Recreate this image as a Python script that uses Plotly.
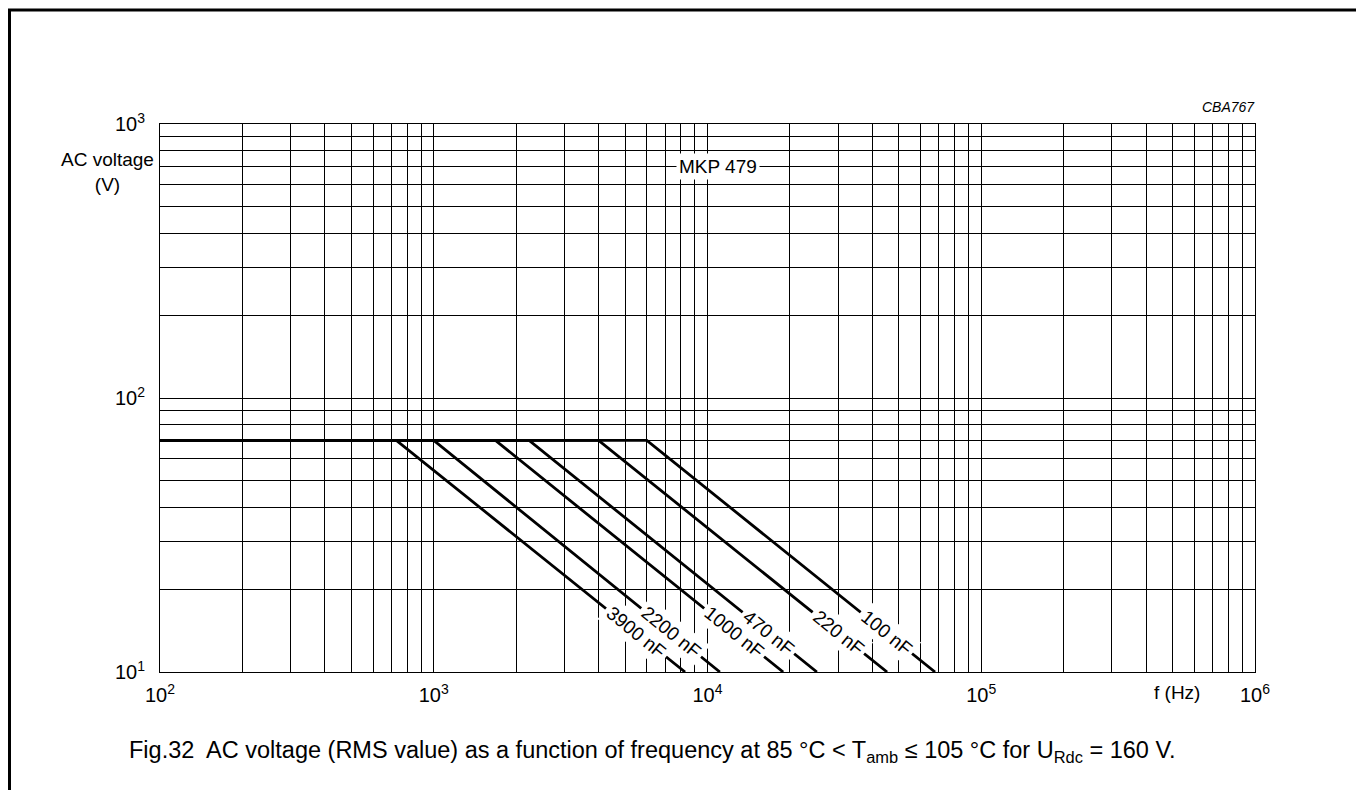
import math
import plotly.graph_objects as go

# ---- data ----
capacitances = ["100 nF", "220 nF", "470 nF", "1000 nF", "2200 nF", "3900 nF"]
f_corner = [6000, 4000, 2230, 1680, 1000, 730]        # Hz, end of flat part
f_end = [67800, 45300, 25100, 18900, 11100, 8280]     # Hz, where curve reaches 10 V
v_flat = 70        # V
v_end = 10         # V
f_start = 100      # Hz
label_v = 13.9     # V, voltage at label centre

x_decades = [2, 3, 4, 5, 6]
y_decades = [1, 2, 3]

FONT = "Liberation Sans, Arial, sans-serif"

# page pixel geometry (figure is offset by the 8px body margin)
OFF = 8
PX_L, PX_R, PY_T, PY_B = 160, 1255, 124, 672
FIG_W, FIG_H = 1356, 782
PW, PH = PX_R - PX_L, PY_B - PY_T


def px(xpage):
    return (xpage - PX_L) / PW


def py(ypage):
    return (PY_B - ypage) / PH


fig = go.Figure()

for name, fc, fe in zip(capacitances, f_corner, f_end):
    fig.add_trace(go.Scatter(
        x=[f_start, fc, fe], y=[v_flat, v_flat, v_end],
        mode="lines", line=dict(color="black", width=2.8),
        name=name, showlegend=False, hoverinfo="skip"))
    # label position along the sloped segment
    t = (math.log10(v_flat) - math.log10(label_v)) / (math.log10(v_flat) - math.log10(v_end))
    lx = math.log10(fc) + t * (math.log10(fe) - math.log10(fc))
    fig.add_annotation(x=lx, y=math.log10(label_v), text=name, showarrow=False,
                       textangle=39, bgcolor="white", borderpad=3,
                       xanchor="center", yanchor="middle",
                       font=dict(family=FONT, size=19, color="black"),
                       xref="x", yref="y")

# grid positions
xgrid, xtext = [], []
for d in range(x_decades[0], x_decades[-1]):
    for m in range(1, 10):
        xgrid.append(m * 10 ** d)
        xtext.append(f"10<sup>{d}</sup>" if m == 1 else "")
xgrid.append(10 ** x_decades[-1])
xtext.append(f"10<sup>{x_decades[-1]}</sup>")

ygrid, ytext = [], []
for d in range(y_decades[0], y_decades[-1]):
    for m in range(1, 10):
        ygrid.append(m * 10 ** d)
        ytext.append(f"10<sup>{d}</sup>" if m == 1 else "")
ygrid.append(10 ** y_decades[-1])
ytext.append(f"10<sup>{y_decades[-1]}</sup>")

axis_common = dict(showgrid=True, gridcolor="black", gridwidth=1,
                   showline=True, linecolor="black", linewidth=1, mirror=True,
                   ticks="", zeroline=False,
                   tickfont=dict(family=FONT, size=20, color="black"))

fig.update_xaxes(type="log", range=[x_decades[0], x_decades[-1]],
                 tickmode="array", tickvals=xgrid, ticktext=xtext,
                 ticklabelstandoff=5, **axis_common)
fig.update_yaxes(type="log", range=[y_decades[0], y_decades[-1]],
                 tickmode="array", tickvals=ygrid, ticktext=ytext,
                 ticklabelstandoff=10, **axis_common)

# texts
fig.add_annotation(x=px(107), y=py(172), xref="paper", yref="paper",
                   xanchor="center", yanchor="middle",
                   text="AC voltage<br>(V)", showarrow=False, align="center",
                   font=dict(family=FONT, size=19, color="black"))
fig.add_annotation(x=px(1177), y=py(692), xref="paper", yref="paper",
                   xanchor="center", yanchor="middle",
                   text="f (Hz)", showarrow=False,
                   font=dict(family=FONT, size=19, color="black"))
fig.add_annotation(x=px(1257), y=py(107), xref="paper", yref="paper",
                   xanchor="right", yanchor="middle",
                   text="<i>CBA767</i>", showarrow=False,
                   font=dict(family=FONT, size=14, color="black"))
fig.add_annotation(x=math.log10(10900), y=math.log10(700), xref="x", yref="y",
                   xanchor="center", yanchor="middle",
                   text="MKP 479", showarrow=False, bgcolor="white", borderpad=2,
                   font=dict(family=FONT, size=19, color="black"))
fig.add_annotation(x=px(652), y=py(751), xref="paper", yref="paper",
                   xanchor="center", yanchor="middle",
                   text="Fig.32  AC voltage (RMS value) as a function of frequency at 85 °C &lt; "
                        "T<sub>amb</sub> ≤ 105 °C for U<sub>Rdc</sub> = 160 V.",
                   showarrow=False,
                   font=dict(family=FONT, size=23.5, color="black"))

# outer frame
fig.add_shape(type="rect", xref="paper", yref="paper",
              x0=px(OFF + 1.5), x1=px(1362), y0=py(800), y1=py(OFF + 2),
              line=dict(color="black", width=3), fillcolor="rgba(0,0,0,0)")

fig.update_layout(width=FIG_W, height=FIG_H,
                  margin=dict(l=PX_L - OFF, r=FIG_W + OFF - PX_R, t=PY_T - OFF, b=FIG_H + OFF - PY_B),
                  paper_bgcolor="white", plot_bgcolor="white",
                  showlegend=False)

fig.write_html("out.html")
